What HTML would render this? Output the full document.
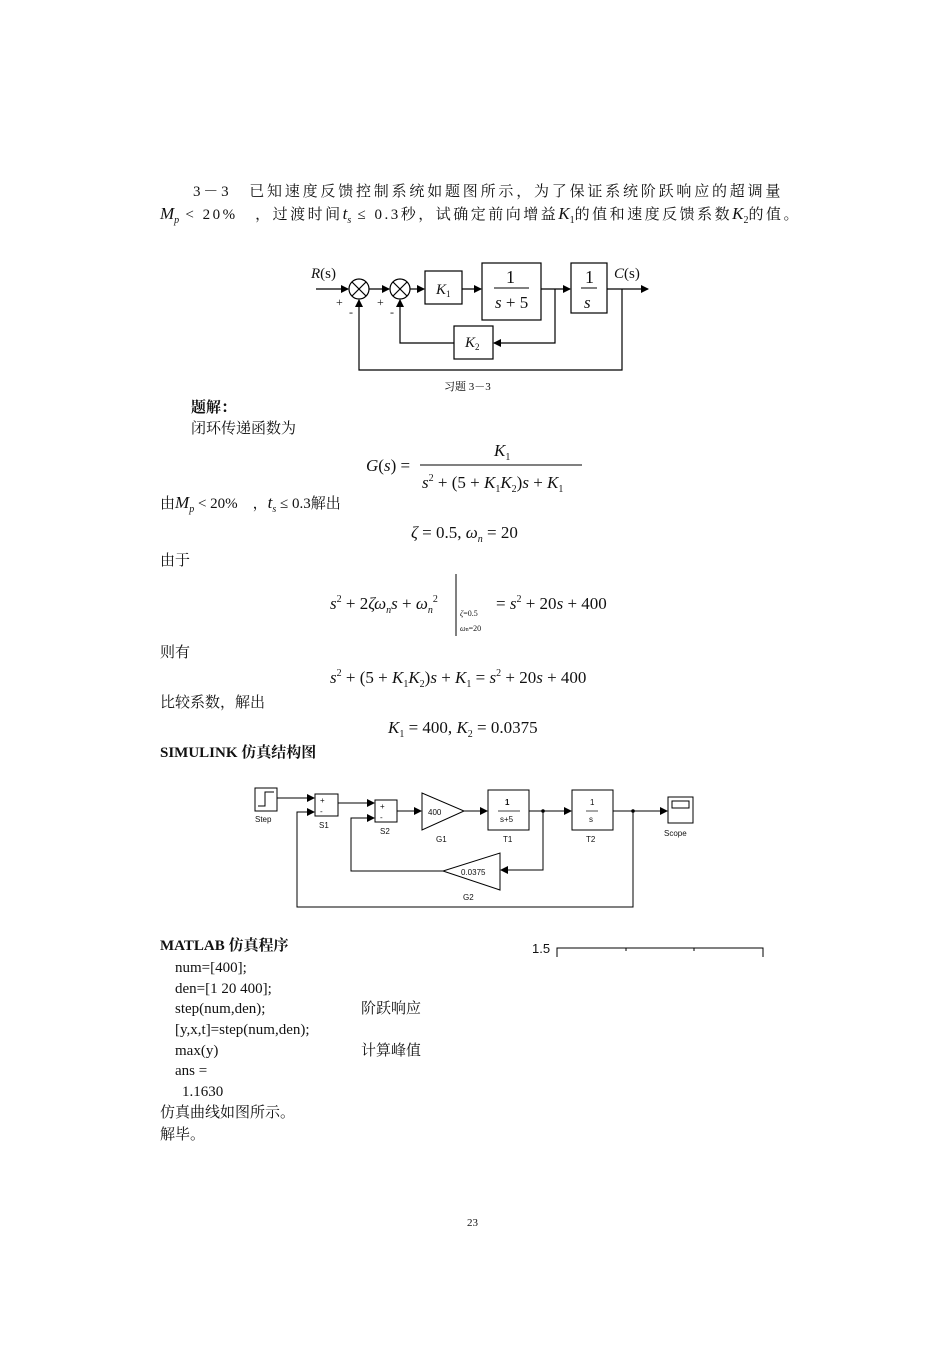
<!DOCTYPE html>
<html><head><meta charset="utf-8"><style>
html,body{margin:0;padding:0;background:#fff}
svg{display:block}
text{font-family:"Liberation Serif","Noto Serif CJK SC",serif;fill:#111}
.s{font-family:"Liberation Sans",sans-serif}
.i{font-style:italic}
</style></head><body>
<svg width="950" height="1345" viewBox="0 0 950 1345" xmlns="http://www.w3.org/2000/svg">
<defs><marker id="a" markerWidth="8" markerHeight="8" refX="7" refY="4" orient="auto" markerUnits="userSpaceOnUse"><path d="M0,0 L8,4 L0,8z" fill="#000"/></marker></defs>
<g font-size="15">
<text x="193" y="196" letter-spacing="2.8">3－3　已知速度反馈控制系统如题图所示，为了保证系统阶跃响应的超调量</text>
<text x="160" y="219"><tspan class="i" font-size="17">M</tspan><tspan font-size="10" class="i" dy="4">p</tspan><tspan dy="-4" letter-spacing="2.5"> &lt; 20%　，过渡时间</tspan><tspan class="i" font-size="17">t</tspan><tspan font-size="10" class="i" dy="4">s</tspan><tspan dy="-4" letter-spacing="2.5"> ≤ 0.3秒，试确定前向增益</tspan><tspan class="i" font-size="17">K</tspan><tspan font-size="10" dy="4">1</tspan><tspan dy="-4" letter-spacing="2.5">的值和速度反馈系数</tspan><tspan class="i" font-size="17">K</tspan><tspan font-size="10" dy="4">2</tspan><tspan dy="-4" letter-spacing="2.5">的值。</tspan></text>
</g>
<g stroke="#000" stroke-width="1.2" fill="none">
<line x1="316" y1="289" x2="348" y2="289" marker-end="url(#a)"/>
<circle cx="359" cy="289" r="10"/><line x1="352" y1="282" x2="366" y2="296"/><line x1="366" y1="282" x2="352" y2="296"/>
<line x1="369" y1="289" x2="389" y2="289" marker-end="url(#a)"/>
<circle cx="400" cy="289" r="10"/><line x1="393" y1="282" x2="407" y2="296"/><line x1="407" y1="282" x2="393" y2="296"/>
<line x1="410" y1="289" x2="424" y2="289" marker-end="url(#a)"/>
<rect x="425" y="271" width="37" height="33"/>
<line x1="462" y1="289" x2="481" y2="289" marker-end="url(#a)"/>
<rect x="482" y="263" width="59" height="57"/>
<line x1="541" y1="289" x2="570" y2="289" marker-end="url(#a)"/>
<rect x="571" y="263" width="36" height="50"/>
<line x1="607" y1="289" x2="648" y2="289" marker-end="url(#a)"/>
<polyline points="555,289 555,343 494,343" marker-end="url(#a)"/>
<rect x="454" y="326" width="39" height="33"/>
<polyline points="454,343 400,343 400,300" marker-end="url(#a)"/>
<polyline points="622,289 622,370 359,370 359,300" marker-end="url(#a)"/>
</g>
<text x="311" y="278" font-size="15"><tspan class="i">R</tspan>(s)</text>
<text x="614" y="278" font-size="15"><tspan class="i">C</tspan>(s)</text>
<text x="336" y="306" font-size="12">+</text><text x="349" y="316" font-size="12">-</text>
<text x="377" y="306" font-size="12">+</text><text x="390" y="316" font-size="12">-</text>
<text x="436" y="294" font-size="15" class="i">K<tspan font-size="9" dy="3" font-style="normal">1</tspan></text>
<text x="506" y="283" font-size="18">1</text><line x1="494" y1="288" x2="529" y2="288" stroke="#000"/>
<text x="495" y="308" font-size="17"><tspan class="i">s</tspan> + 5</text>
<text x="585" y="283" font-size="18">1</text><line x1="581" y1="288" x2="597" y2="288" stroke="#000"/>
<text x="584" y="308" font-size="17" class="i">s</text>
<text x="465" y="347" font-size="15" class="i">K<tspan font-size="9" dy="3" font-style="normal">2</tspan></text>
<text x="444" y="390" font-size="11">习题 3－3</text>
<text x="191" y="412" font-size="15" font-weight="bold">题解：</text>
<text x="191" y="433" font-size="15">闭环传递函数为</text>
<text x="366" y="471" font-size="17"><tspan class="i">G</tspan>(<tspan class="i">s</tspan>) =</text>
<text x="494" y="456" font-size="17" class="i">K<tspan font-size="10" dy="4" font-style="normal">1</tspan></text>
<line x1="420" y1="465" x2="582" y2="465" stroke="#000"/>
<text x="422" y="488" font-size="17"><tspan class="i">s</tspan><tspan font-size="10" dy="-7">2</tspan><tspan dy="7"> + (5 + </tspan><tspan class="i">K</tspan><tspan font-size="10" dy="4">1</tspan><tspan class="i" dy="-4">K</tspan><tspan font-size="10" dy="4">2</tspan><tspan dy="-4">)</tspan><tspan class="i">s</tspan> + <tspan class="i">K</tspan><tspan font-size="10" dy="4">1</tspan></text>
<text x="160" y="508" font-size="15">由<tspan class="i" font-size="17">M</tspan><tspan font-size="10" class="i" dy="4">p</tspan><tspan dy="-4"> &lt; 20%　，</tspan><tspan class="i" font-size="17">t</tspan><tspan font-size="10" class="i" dy="4">s</tspan><tspan dy="-4"> ≤ 0.3解出</tspan></text>
<text x="411" y="538" font-size="17"><tspan class="i">ζ</tspan> = 0.5, <tspan class="i">ω</tspan><tspan font-size="10" class="i" dy="4">n</tspan><tspan dy="-4"> = 20</tspan></text>
<text x="160" y="565" font-size="15">由于</text>
<text x="330" y="609" font-size="17"><tspan class="i">s</tspan><tspan font-size="10" dy="-7">2</tspan><tspan dy="7"> + 2</tspan><tspan class="i">ζω</tspan><tspan font-size="10" class="i" dy="4">n</tspan><tspan class="i" dy="-4">s</tspan> + <tspan class="i">ω</tspan><tspan font-size="10" class="i" dy="4">n</tspan><tspan font-size="10" dy="-11">2</tspan></text>
<line x1="456" y1="574" x2="456" y2="636" stroke="#000"/>
<text x="460" y="616" font-size="8"><tspan class="i">ζ</tspan>=0.5</text>
<text x="460" y="631" font-size="8"><tspan class="i">ω</tspan><tspan font-size="6">n</tspan>=20</text>
<text x="496" y="609" font-size="17">= <tspan class="i">s</tspan><tspan font-size="10" dy="-7">2</tspan><tspan dy="7"> + 20</tspan><tspan class="i">s</tspan> + 400</text>
<text x="160" y="657" font-size="15">则有</text>
<text x="330" y="683" font-size="17"><tspan class="i">s</tspan><tspan font-size="10" dy="-7">2</tspan><tspan dy="7"> + (5 + </tspan><tspan class="i">K</tspan><tspan font-size="10" dy="4">1</tspan><tspan class="i" dy="-4">K</tspan><tspan font-size="10" dy="4">2</tspan><tspan dy="-4">)</tspan><tspan class="i">s</tspan> + <tspan class="i">K</tspan><tspan font-size="10" dy="4">1</tspan><tspan dy="-4"> = </tspan><tspan class="i">s</tspan><tspan font-size="10" dy="-7">2</tspan><tspan dy="7"> + 20</tspan><tspan class="i">s</tspan> + 400</text>
<text x="160" y="707" font-size="15">比较系数，解出</text>
<text x="388" y="733" font-size="17"><tspan class="i">K</tspan><tspan font-size="10" dy="4">1</tspan><tspan dy="-4"> = 400, </tspan><tspan class="i">K</tspan><tspan font-size="10" dy="4">2</tspan><tspan dy="-4"> = 0.0375</tspan></text>
<text x="160" y="757" font-size="15" font-weight="bold">SIMULINK 仿真结构图</text>
<g stroke="#000" stroke-width="1" fill="none">
<rect x="255" y="788" width="22" height="23"/><polyline points="258,806 265,806 265,792 274,792" />
<line x1="277" y1="798" x2="314" y2="798" marker-end="url(#a)"/>
<rect x="315" y="794" width="23" height="22"/>
<line x1="338" y1="803" x2="374" y2="803" marker-end="url(#a)"/>
<rect x="375" y="800" width="22" height="22"/>
<line x1="397" y1="811" x2="421" y2="811" marker-end="url(#a)"/>
<polygon points="422,793 422,830 464,811"/>
<line x1="464" y1="811" x2="487" y2="811" marker-end="url(#a)"/>
<rect x="488" y="790" width="41" height="40"/>
<line x1="529" y1="811" x2="571" y2="811" marker-end="url(#a)"/>
<rect x="572" y="790" width="41" height="40"/>
<line x1="613" y1="811" x2="667" y2="811" marker-end="url(#a)"/>
<rect x="668" y="797" width="25" height="26"/><rect x="672" y="801" width="17" height="7"/>
<polyline points="543,811 543,870 501,870" marker-end="url(#a)"/>
<polygon points="500,853 500,890 443,871"/>
<polyline points="443,871 351,871 351,818 374,818" marker-end="url(#a)"/>
<polyline points="633,811 633,907 297,907 297,812 314,812" marker-end="url(#a)"/>
</g>
<circle cx="543" cy="811" r="1.8"/><circle cx="633" cy="811" r="1.8"/>
<g class="s" font-size="8">
<text x="255" y="822" class="s">Step</text>
<text x="320" y="803" class="s">+</text><text x="320" y="814" class="s">-</text>
<text x="380" y="809" class="s">+</text><text x="380" y="820" class="s">-</text>
<text x="319" y="828" class="s">S1</text><text x="380" y="834" class="s">S2</text>
<text x="428" y="815" class="s">400</text><text x="436" y="842" class="s">G1</text>
<text x="505" y="805" class="s" font-weight="bold">1</text><line x1="498" y1="811" x2="520" y2="811" stroke="#000" stroke-width="0.7"/>
<text x="500" y="822" class="s">s+5</text><text x="503" y="842" class="s">T1</text>
<text x="590" y="805" class="s">1</text><line x1="586" y1="811" x2="598" y2="811" stroke="#000" stroke-width="0.7"/>
<text x="589" y="822" class="s">s</text><text x="586" y="842" class="s">T2</text>
<text x="664" y="836" class="s">Scope</text>
<text x="461" y="875" class="s">0.0375</text><text x="463" y="900" class="s">G2</text>
</g>
<text x="160" y="950" font-size="15" font-weight="bold">MATLAB 仿真程序</text>
<g font-size="15">
<text x="175" y="972">num=[400];</text>
<text x="175" y="993">den=[1 20 400];</text>
<text x="175" y="1013">step(num,den);</text><text x="361" y="1013">阶跃响应</text>
<text x="175" y="1034">[y,x,t]=step(num,den);</text>
<text x="175" y="1055">max(y)</text><text x="361" y="1055">计算峰值</text>
<text x="175" y="1075">ans =</text>
<text x="182" y="1096">1.1630</text>
<text x="160" y="1117">仿真曲线如图所示。</text>
<text x="160" y="1139">解毕。</text>
</g>
<text x="532" y="953" font-size="13" class="s">1.5</text>
<g stroke="#000" stroke-width="1" fill="none">
<polyline points="557,957 557,948 763,948 763,957"/>
<line x1="626" y1="948" x2="626" y2="951"/><line x1="694" y1="948" x2="694" y2="951"/>
</g>
<text x="467" y="1226" font-size="11">23</text>
</svg>
</body></html>
